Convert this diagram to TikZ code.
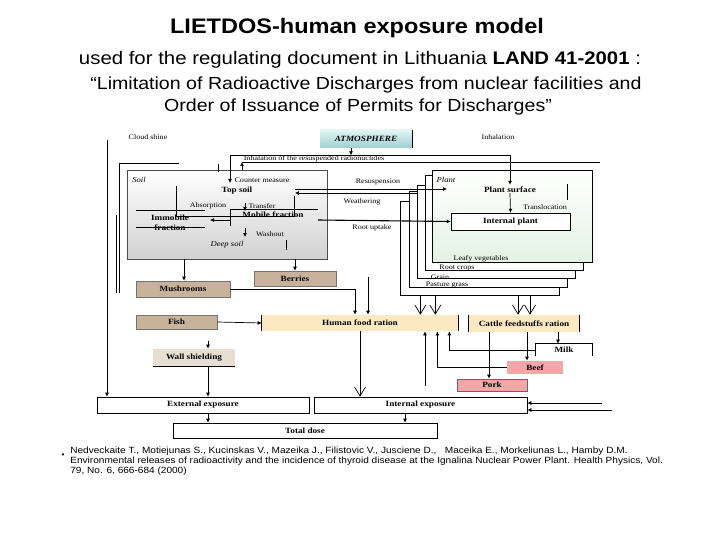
\documentclass[tikz,border=0pt]{standalone}
\usepackage{fontspec}
\setmainfont{Liberation Sans}
\newfontfamily\diagfont[FakeStretch=1.15]{Liberation Serif}
\newfontfamily\widefont[FakeStretch=1.12]{Liberation Sans}
\usetikzlibrary{arrows.meta}
\definecolor{atmtop}{HTML}{E2F4F4}
\definecolor{atmbot}{HTML}{9CCFD0}
\definecolor{tan}{HTML}{C9B29B}
\definecolor{ration}{HTML}{FCE9C2}
\definecolor{wall}{HTML}{E6DFD2}
\definecolor{meat}{HTML}{F4A7A7}
\definecolor{plantg}{HTML}{E3F3E3}
\tikzset{>={Latex[length=4pt,width=4pt]}}
\tikzset{
  lbl/.style={font=\diagfont\fontsize{7}{8}\selectfont, inner sep=0pt},
  blbl/.style={font=\diagfont\fontsize{8}{9}\selectfont\bfseries, inner sep=0pt},
  tanbox/.style={blbl, fill=tan, draw=black!55},
  rationbox/.style={blbl, fill=ration},
  meatbox/.style={blbl, fill=meat},
  whitebox/.style={blbl, draw, fill=white},
  stackbox/.style={draw, fill=white, thick},
  vtip/.style={-{Straight Barb[length=9pt,width=11pt]}},
}

\begin{document}
\begin{tikzpicture}[x=1pt, y=-1pt, line width=0.7pt]
\useasboundingbox (0,0) rectangle (720,540);

% title
\node (t1) at (357,28) {\widefont\fontsize{21}{24}\selectfont\bfseries LIETDOS-human exposure model};
\node (t2) at (360,60) {\widefont\fontsize{18.2}{22}\selectfont used for the regulating document in Lithuania \textbf{LAND 41-2001} :};
\node (t3) at (366,85) {\widefont\fontsize{17.5}{20}\selectfont “Limitation of Radioactive Discharges from nuclear facilities and};
\node (t4) at (358,107) {\widefont\fontsize{17.5}{20}\selectfont Order of Issuance of Permits for Discharges”};

% plant stack, back to front
\node[stackbox, minimum width=159pt, minimum height=94pt] (outerfeed) at (479.5,248) {};
\node[stackbox, minimum width=158pt, minimum height=96pt] (pasture) at (488,239) {};
\node[stackbox, minimum width=158pt, minimum height=93pt] (grain) at (496,231.5) {};
\node[stackbox, thin, minimum width=158pt, minimum height=95pt] (rootcrops) at (504,222.5) {};
\node[stackbox, top color=white, bottom color=plantg, minimum width=160pt, minimum height=92pt] (plant) at (512,216) {};
\node[lbl] (leafy) at (481,259) {Leafy vegetables};
\node[lbl] (rootlbl) at (457,268) {Root crops};
\node[lbl] (grainlbl) at (440,277) {Grain};
\node[lbl] (pastlbl) at (447,285) {Pasture grass};
\node[lbl, font=\diagfont\fontsize{7.5}{8}\selectfont\itshape] (plantlbl) at (446,180) {Plant};
\node[blbl] (psurf) at (510,190) {Plant surface};
\node[whitebox, thin, minimum width=119pt, minimum height=17pt] (iplant) at (510.5,221.5) {Internal plant};
\node[lbl] (transloc) at (545,207) {Translocation};

% atmosphere and soil
\node[blbl, font=\diagfont\fontsize{8}{9}\selectfont\bfseries\itshape, top color=atmtop, bottom color=atmbot, minimum width=92pt, minimum height=18pt] (atm) at (366,139) {ATMOSPHERE};
\node[lbl] (cloud) at (148,137) {Cloud shine};
\node[lbl] (inhal) at (498,137) {Inhalation};
\node[lbl] (inhres) at (314,159) {Inhalation of the resuspended radionuclides};
\node[draw=black!70, top color=white, bottom color=black!18, minimum width=200pt, minimum height=89pt] (soil) at (227,214.5) {};
\node[lbl, font=\diagfont\fontsize{7.5}{8}\selectfont\itshape] (soillbl) at (139,180) {Soil};
\node[lbl] (counter) at (262,180) {Counter measure};
\node[blbl] (topsoil) at (237,191) {Top soil};
\node[lbl] (absorp) at (208,206) {Absorption};
\node[lbl] (transf) at (262,206) {Transfer};
\node[blbl] (mobile) at (273,215) {Mobile fraction};
\node[blbl, align=center, font=\diagfont\fontsize{8}{10.5}\selectfont\bfseries] (immobile) at (170,223) {Immobile\\fraction};
\node[lbl] (washout) at (270,234) {Washout};
\node[lbl, font=\diagfont\fontsize{7.5}{8}\selectfont\itshape] (deepsoil) at (227,245) {Deep soil};
\node[lbl] (resusp) at (378,182) {Resuspension};
\node[lbl] (weather) at (362,202) {Weathering};
\node[lbl] (rootup) at (372,228) {Root uptake};

% food chain boxes
\node[tanbox, minimum width=82pt, minimum height=15pt] (berries) at (295,278.5) {Berries};
\node[tanbox, minimum width=94pt, minimum height=16pt] (mush) at (183,289) {Mushrooms};
\node[tanbox, minimum width=81pt, minimum height=14pt] (fish) at (176.5,322) {Fish};
\node[rationbox, minimum width=196pt, minimum height=16pt] (food) at (360,323) {Human food ration};
\node[rationbox, minimum width=110pt, minimum height=17pt] (cattle) at (524,323.5) {Cattle feedstuffs ration};
\node[blbl, fill=wall, minimum width=82pt, minimum height=17pt] (wall) at (194,357.5) {Wall shielding};
\node[blbl, fill=white, minimum width=56pt, minimum height=12pt] (milk) at (564,350) {Milk};
\node[meatbox, minimum width=56pt, minimum height=13pt] (beef) at (535,367.5) {Beef};
\node[meatbox, draw=black!60, minimum width=70pt, minimum height=12pt] (pork) at (492,385) {Pork};
\node[whitebox, minimum width=212pt, minimum height=16pt] (ext) at (203,405) {External exposure};
\node[whitebox, minimum width=213pt, minimum height=16pt] (intx) at (420.5,405) {Internal exposure};
\node[whitebox, minimum width=264pt, minimum height=15pt] (total) at (305,430.5) {Total dose};

% box edges
\draw (atm.north east) -- (atm.south east);
\draw (food.north west) -- (food.south west);
\draw (food.north east) -- (food.south east);
\draw (cattle.north west) -- (cattle.south west);
\draw (cattle.north east) -- (cattle.south east);
\draw (wall.south west) -- (wall.south east);
\draw (milk.south west) |- (milk.north east) -- (milk.south east);

% coordinates for free ends
\coordinate (cs) at (107,140);
\coordinate (ia) at (230,155);
\coordinate (ib) at (510,155);
\coordinate (ic) at (600,162);
\coordinate (id) at (242,162);
\coordinate (bx) at (368,277);
\coordinate (px) at (425,386);
\coordinate (r1) at (602,403);
\coordinate (r2) at (612,410);

% atmosphere and soil links
\draw[->] (cs) -- (cs |- ext.north);
\draw[->] ([xshift=-15pt]atm.south) -- ++(0,7);
\draw[->] (ib) -- (ia) -- ++(0,28);
\draw[->] (ia -| psurf.north) -- ([yshift=2pt]psurf.north);
\draw[->] (soil.north -| id) -- (id);
\draw (id) -- (ic);
\draw (179,163) -| (119,293);
\draw (116,215) -- (116,293);
\draw (218,164) -- (218,172);
\draw (176,186) |- (294,216) -- (294,196);
\draw[->] (295,189) -- (447,189);
\draw[->] (grain.north west |- 0,193) -- (295,193);
\draw[->] (245,203) -- (245,211);
\draw (230,226) |- (318,209);
\draw[->] (230,220) -- (210,220);
\draw (136,210) -- (205,210);
\draw (136,227) -- (205,227);
\draw[->, line width=1.1pt] (318,220) -- (iplant.west);
\draw[->] (245,228) -- (245,237);
\draw (286,240) -- (286,250);
\draw[->] (psurf.south) -- (iplant.north);
\draw (567,184) -- (567,200);

% food links
\draw[->] (soil.south -| 184,0) -- (mush.north -| 184,0);
\draw[->] (soil.south -| berries.north) -- (berries.north);
\draw[->] (mush.east) -| ([xshift=-5pt]food.north);
\draw[->] (bx) -- (bx |- food.north);
\draw[->] (fish.east) -- (food.west);
\draw[vtip] ([xshift=-38pt]food.north east |- outerfeed.south) -- ([xshift=-38pt]food.north east);
\draw[vtip] ([xshift=-23pt]food.north east |- outerfeed.south) -- ([xshift=-23pt]food.north east);
\draw[vtip] ([xshift=-6pt]cattle.north |- outerfeed.south) -- ([xshift=-6pt]cattle.north);
\draw[vtip] ([xshift=6pt]cattle.north |- outerfeed.south) -- ([xshift=6pt]cattle.north);
\draw[->] (milk.west) -| ([xshift=-9pt]food.south east);
\draw[->] (beef.west) -| ([xshift=-21pt]food.south east);
\draw[->] (px) -- (px |- food.south);
\draw[->] ([xshift=-35pt]cattle.south) -- ([xshift=-35pt]cattle.south |- pork.north);
\draw[->] ([xshift=3pt]cattle.south) -- ([xshift=3pt]cattle.south |- beef.north);
\draw[->] ([xshift=34pt]cattle.south) -- ([xshift=34pt]cattle.south |- milk.north);
\draw[vtip] (food.south) -- (food.south |- intx.north);
\draw[->] ([xshift=14pt,yshift=8pt]wall.north) -- ([xshift=14pt]wall.north);
\draw[->] ([xshift=14pt]wall.south) -- ([xshift=14pt]wall.south |- ext.north);
\draw[->] (r1) -- (r1 -| intx.east);
\draw[->] (r2) -- (r2 -| intx.east);
\draw[->] ([xshift=5pt]ext.south) -- ([xshift=5pt]ext.south |- total.north);
\draw[->] ([xshift=-15.5pt]intx.south) -- ([xshift=-15.5pt]intx.south |- total.north);

% reference
\node (bul) at (63,456) {\fontsize{8}{9}\selectfont •};
\node[anchor=north west, align=left, inner sep=0pt, font=\widefont\fontsize{9}{10}\selectfont] (refs) at (70,447) {Nedveckaite T., Motiejunas S., Kucinskas V., Mazeika J., Filistovic V., Jusciene D., \ \ Maceika E., Morkeliunas L., Hamby D.M.\\Environmental releases of radioactivity and the incidence of thyroid disease at the Ignalina Nuclear Power Plant. Health Physics, Vol.\\79, No. 6, 666-684 (2000)};
\end{tikzpicture}
\end{document}
